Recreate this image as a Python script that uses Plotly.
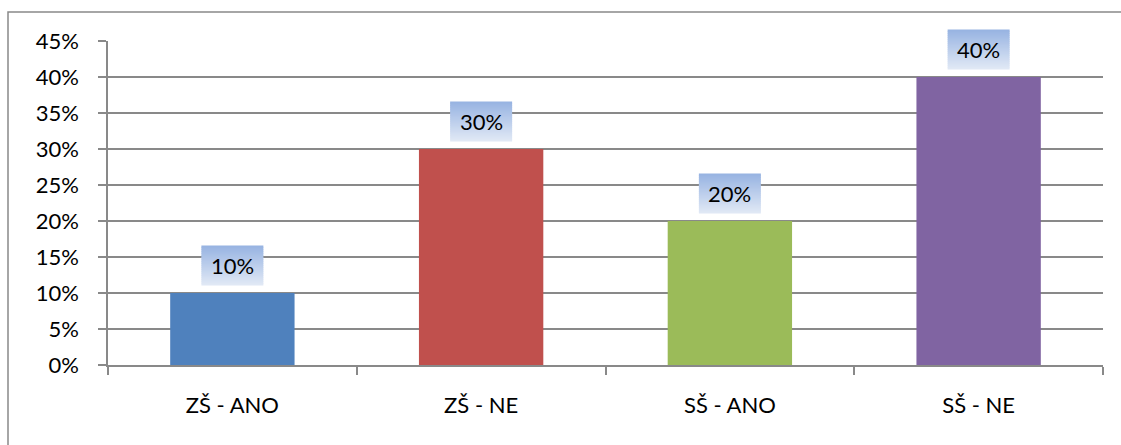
import plotly.graph_objects as go

# Survey answers by school type
categories = ["ZŠ - ANO", "ZŠ - NE", "SŠ - ANO", "SŠ - NE"]
shares = [0.10, 0.30, 0.20, 0.40]
bar_colors = ["#4F81BD", "#C0504D", "#9BBB59", "#8064A2"]
label_texts = ["10%", "30%", "20%", "40%"]

Y_MAX = 0.45
GRID = "#898989"
FONT = "Lato"

fig = go.Figure(
    go.Bar(
        x=categories,
        y=shares,
        marker=dict(color=bar_colors, line=dict(width=0)),
        width=0.5,
        hoverinfo="skip",
    )
)

shapes = []
annotations = []

# Gradient-filled value labels floating above each bar
# (paper-referenced so the top label is not clipped by the plot area)
top_rgb = (152, 180, 226)
bot_rgb = (224, 232, 245)
n_strips = 20
box_h = 40.0
gap = 7.5
n_cat = len(categories)
for i, (v, txt) in enumerate(zip(shares, label_texts)):
    xa = (i + 0.5) / n_cat
    ya = v / Y_MAX
    for k in range(n_strips):
        t = k / (n_strips - 1)
        r = round(bot_rgb[0] + (top_rgb[0] - bot_rgb[0]) * t)
        g = round(bot_rgb[1] + (top_rgb[1] - bot_rgb[1]) * t)
        b = round(bot_rgb[2] + (top_rgb[2] - bot_rgb[2]) * t)
        y0 = gap + box_h * k / n_strips
        y1 = min(gap + box_h * (k + 1) / n_strips + 0.6, gap + box_h)
        shapes.append(dict(
            type="rect", layer="above",
            xref="paper", yref="paper",
            xsizemode="pixel", xanchor=xa, x0=-31, x1=31,
            ysizemode="pixel", yanchor=ya, y0=y0, y1=y1,
            fillcolor=f"rgb({r},{g},{b})", line=dict(width=0),
        ))
    annotations.append(dict(
        x=i, y=v, xref="x", yref="y", text=txt, showarrow=False,
        yshift=gap + box_h / 2, yanchor="middle", xanchor="center",
        font=dict(family=FONT, size=22, color="#000000"),
    ))

# Chart frame
shapes.append(dict(
    type="path", xref="paper", yref="paper", layer="above",
    path="M -0.1005,-0.4 L -0.1005,1.0895 L 1.1,1.0895",
    line=dict(color=GRID, width=1.5),
))

fig.update_layout(
    width=1121, height=445,
    margin=dict(l=108, r=18, t=41, b=80),
    paper_bgcolor="white", plot_bgcolor="white",
    showlegend=False,
    bargap=0.5,
    shapes=shapes,
    annotations=annotations,
    font=dict(family=FONT, size=22, color="#000000"),
    xaxis=dict(
        type="category",
        tickson="boundaries",
        ticks="outside", ticklen=8, tickwidth=1.5, tickcolor=GRID,
        showline=True, linecolor=GRID, linewidth=1.5,
        showgrid=False,
        ticklabelstandoff=20,
        tickfont=dict(family=FONT, size=22, color="#000000"),
    ),
    yaxis=dict(
        range=[0, Y_MAX], dtick=0.05, tick0=0,
        tickformat=".0%",
        ticks="outside", ticklen=8, tickwidth=1.5, tickcolor=GRID,
        showline=True, linecolor=GRID, linewidth=1.5,
        showgrid=True, gridcolor=GRID, gridwidth=1.5,
        zeroline=False,
        ticklabelstandoff=15,
        tickfont=dict(family=FONT, size=22, color="#000000"),
    ),
)

fig.write_html("out.html")
